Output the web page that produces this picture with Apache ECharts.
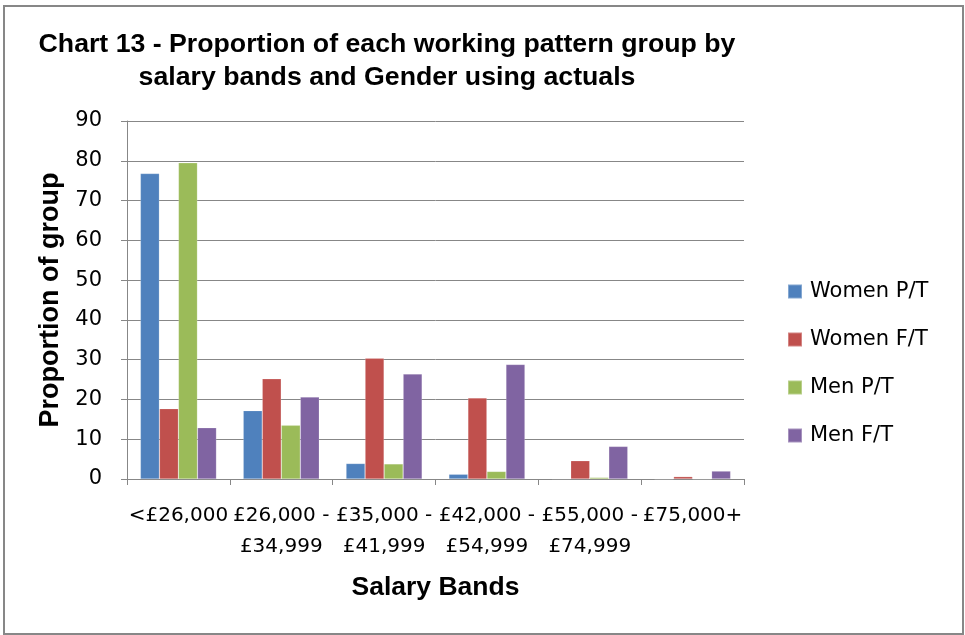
<!DOCTYPE html>
<html>
<head>
<meta charset="utf-8">
<title>Chart 13 - Proportion of each working pattern group by salary bands and Gender</title>
<script src="https://cdn.jsdelivr.net/npm/echarts@6/dist/echarts.min.js"></script>
<style>
  html, body { margin: 0; padding: 0; background: #ffffff; }
  #chart { width: 965px; height: 635px; }
</style>
</head>
<body>
<div id="chart"></div>
<script>
// Salary bands (x-axis categories)
const salaryBands = [
  '<£26,000',
  '£26,000 -\n£34,999',
  '£35,000 -\n£41,999',
  '£42,000 -\n£54,999',
  '£55,000 -\n£74,999',
  '£75,000+'
];

// Proportion of each working pattern group in each band
const womenPT = [76.8, 17.2, 3.9, 1.2, 0.1, 0.0];
const womenFT = [17.7, 25.2, 30.4, 20.4, 4.6, 0.6];
const menPT   = [79.5, 13.5, 3.8, 1.9, 0.4, 0.0];
const menFT   = [12.9, 20.6, 26.4, 28.8, 8.2, 2.0];

const seriesNames = ['Women P/T', 'Women F/T', 'Men P/T', 'Men F/T'];
const seriesColors = ['#4F81BD', '#C0504D', '#9BBB59', '#8064A2'];
const seriesValues = [womenPT, womenFT, menPT, menFT];

// Y-axis range
const yMin = 0, yMax = 90, yStep = 10;

const titleLines = [
  'Chart 13 - Proportion of each working pattern group by',
  'salary bands and Gender using actuals'
];

const gridColor = '#878787';
const bodyFont = 'DejaVu Sans';
const boldFont = 'Liberation Sans';

const chart = echarts.init(document.getElementById('chart'), null, { renderer: 'canvas' });

chart.setOption({
  backgroundColor: '#ffffff',
  animation: false,
  graphic: [
    {
      type: 'rect',
      shape: { x: 4, y: 6, width: 959, height: 628 },
      style: { fill: 'none', stroke: gridColor, lineWidth: 2 },
      silent: true,
      z: 0
    },
    {
      type: 'text',
      x: 387,
      y: 28,
      style: {
        text: titleLines.join('\n'),
        fill: '#000000',
        font: 'bold 26.7px "' + boldFont + '", Arial, sans-serif',
        textAlign: 'center',
        textVerticalAlign: 'top',
        lineHeight: 33
      },
      z: 10
    }
  ],
  legend: {
    orient: 'vertical',
    left: 787,
    top: 281,
    padding: 0,
    itemWidth: 14,
    itemHeight: 14,
    itemGap: 27,
    icon: 'rect',
    data: seriesNames,
    textStyle: {
      fontFamily: bodyFont,
      fontSize: 21,
      color: '#000000',
      padding: [0, 0, 0, 3]
    }
  },
  grid: {
    left: 127,
    right: 221,
    top: 121,
    bottom: 156,
    containLabel: false
  },
  xAxis: {
    type: 'category',
    data: salaryBands,
    name: 'Salary Bands',
    nameLocation: 'middle',
    nameGap: 95,
    nameTextStyle: {
      fontFamily: boldFont,
      fontWeight: 'bold',
      fontSize: 26.5,
      color: '#000000'
    },
    axisLine: { show: true, lineStyle: { color: gridColor, width: 1 } },
    axisTick: { show: true, length: 6, lineStyle: { color: gridColor, width: 1 } },
    axisLabel: {
      interval: 0,
      margin: 21,
      fontFamily: bodyFont,
      fontSize: 20,
      lineHeight: 31,
      color: '#000000'
    },
    splitLine: { show: false }
  },
  yAxis: {
    type: 'value',
    min: yMin,
    max: yMax,
    interval: yStep,
    name: 'Proportion of group',
    nameLocation: 'middle',
    nameRotate: 90,
    nameGap: 62,
    nameTextStyle: {
      fontFamily: boldFont,
      fontWeight: 'bold',
      fontSize: 27,
      color: '#000000'
    },
    axisLine: { show: true, lineStyle: { color: gridColor, width: 1 } },
    axisTick: { show: true, length: 6, lineStyle: { color: gridColor, width: 1 } },
    axisLabel: {
      margin: 25,
      fontFamily: bodyFont,
      fontSize: 21,
      color: '#000000'
    },
    splitLine: { show: true, lineStyle: { color: gridColor, width: 1 } }
  },
  series: seriesNames.map((name, i) => ({
    name: name,
    type: 'bar',
    data: seriesValues[i],
    barGap: '0%',
    barCategoryGap: '26%',
    itemStyle: {
      color: seriesColors[i],
      borderColor: 'rgba(255,255,255,0.3)',
      borderWidth: 0.6
    }
  }))
});
</script>
</body>
</html>
